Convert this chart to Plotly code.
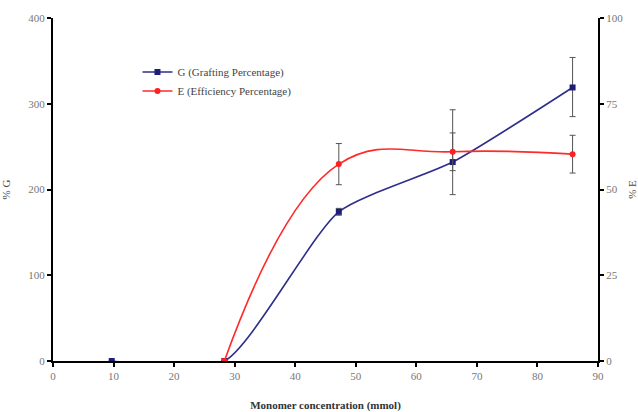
import plotly.graph_objects as go

# Data
g_x = [9.7, 28.3, 47.2, 66.0, 85.8]
g_y = [0, 0, 174, 232, 319]
g_err_plus = [0, 0, 4, 61, 35]
g_err_minus = [0, 0, 4, 38, 34]

e_x = [28.3, 47.2, 66.0, 85.8]
e_y = [0, 57.4, 61, 60.3]
e_err = [0, 6, 5.5, 5.5]

x_ticks = [0, 10, 20, 30, 40, 50, 60, 70, 80, 90]
g_ticks = [0, 100, 200, 300, 400]
e_ticks = [0, 25, 50, 75, 100]

font_family = "Liberation Serif, Times New Roman, serif"
tick_color = "#777777"

fig = go.Figure()
fig.add_trace(go.Scatter(
    x=g_x, y=g_y, name="G (Grafting Percentage)",
    mode="lines+markers",
    line=dict(color="#2E2E8A", width=1.6, shape="spline", smoothing=0.6),
    marker=dict(symbol="square", size=6, color="#1E1E78"),
    error_y=dict(type="data", array=g_err_plus, arrayminus=g_err_minus,
                 color="#555555", thickness=1, width=3),
))
fig.add_trace(go.Scatter(
    x=e_x, y=e_y, name="E (Efficiency Percentage)", yaxis="y2",
    mode="lines+markers",
    line=dict(color="#FF2A2A", width=1.6, shape="spline", smoothing=1.2),
    marker=dict(symbol="circle", size=6, color="#FF2020"),
    error_y=dict(type="data", array=e_err, color="#555555", thickness=1, width=3),
))

axis_common = dict(
    showline=True, linecolor="black", linewidth=2,
    ticks="outside", tickcolor="black", tickwidth=2, ticklen=4,
    showgrid=False, zeroline=False, automargin=False,
    tickfont=dict(family=font_family, size=11, color=tick_color),
)

fig.update_layout(
    width=638, height=412,
    margin=dict(l=53, r=40, t=18, b=51),
    paper_bgcolor="white", plot_bgcolor="white",
    font=dict(family=font_family, color="#333333"),
    showlegend=True,
    legend=dict(x=0.155, y=0.885, xanchor="left", yanchor="top",
                bgcolor="rgba(0,0,0,0)", tracegroupgap=0,
                font=dict(family=font_family, size=11, color="#444444"),
                itemwidth=30),
    xaxis=dict(range=[0, 90], tickvals=x_ticks,
               title=dict(text="<b>Monomer concentration (mmol)</b>",
                          font=dict(family=font_family, size=11, color="#333333"),
                          standoff=20),
               **axis_common),
    yaxis=dict(range=[0, 400], tickvals=g_ticks,
               title=dict(text="% G", font=dict(family=font_family, size=11, color="#444444"),
                          standoff=18),
               **axis_common),
    yaxis2=dict(range=[0, 100], tickvals=e_ticks, overlaying="y", side="right",
                title=dict(text="% E", font=dict(family=font_family, size=11, color="#444444"),
                           standoff=14),
                **axis_common),
)

fig.write_html("out.html")
